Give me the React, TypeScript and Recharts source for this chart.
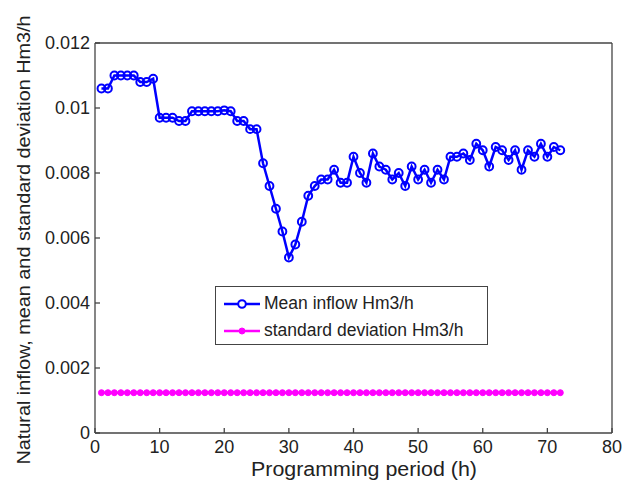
import React from "react";
import {
  LineChart,
  Line,
  XAxis,
  YAxis,
} from "recharts";

// Programming period (h)
const hours = [
  1, 2, 3, 4, 5, 6, 7, 8, 9, 10, 11, 12, 13, 14, 15, 16, 17, 18, 19, 20, 21, 22, 23, 24,
  25, 26, 27, 28, 29, 30, 31, 32, 33, 34, 35, 36, 37, 38, 39, 40, 41, 42, 43, 44, 45, 46, 47, 48,
  49, 50, 51, 52, 53, 54, 55, 56, 57, 58, 59, 60, 61, 62, 63, 64, 65, 66, 67, 68, 69, 70, 71, 72,
];

// Mean inflow Hm3/h
const meanInflow = [
  0.0106, 0.0106, 0.011, 0.011, 0.011, 0.011, 0.0108, 0.0108, 0.0109, 0.0097, 0.0097, 0.0097,
  0.0096, 0.0096, 0.0099, 0.0099, 0.0099, 0.0099, 0.0099, 0.00993, 0.0099, 0.0096, 0.0096, 0.00935,
  0.00935, 0.0083, 0.0076, 0.0069, 0.0062, 0.0054, 0.0058, 0.0065, 0.0073, 0.0076, 0.0078, 0.0078,
  0.0081, 0.0077, 0.0077, 0.0085, 0.008, 0.0077, 0.0086, 0.0082, 0.0081, 0.0078, 0.008, 0.0076,
  0.0082, 0.0078, 0.0081, 0.0077, 0.0081, 0.0078, 0.0085, 0.0085, 0.0086, 0.0084, 0.0089, 0.0087,
  0.0082, 0.0088, 0.0087, 0.0084, 0.0087, 0.0081, 0.0087, 0.0085, 0.0089, 0.0085, 0.0088, 0.0087,
];

// standard deviation Hm3/h
const stdDev = [
  0.00124, 0.00124, 0.00124, 0.00124, 0.00124, 0.00124, 0.00124, 0.00124, 0.00124, 0.00124, 0.00124, 0.00124,
  0.00124, 0.00124, 0.00124, 0.00124, 0.00124, 0.00124, 0.00124, 0.00124, 0.00124, 0.00124, 0.00124, 0.00124,
  0.00124, 0.00124, 0.00124, 0.00124, 0.00124, 0.00124, 0.00124, 0.00124, 0.00124, 0.00124, 0.00124, 0.00124,
  0.00124, 0.00124, 0.00124, 0.00124, 0.00124, 0.00124, 0.00124, 0.00124, 0.00124, 0.00124, 0.00124, 0.00124,
  0.00124, 0.00124, 0.00124, 0.00124, 0.00124, 0.00124, 0.00124, 0.00124, 0.00124, 0.00124, 0.00124, 0.00124,
  0.00124, 0.00124, 0.00124, 0.00124, 0.00124, 0.00124, 0.00124, 0.00124, 0.00124, 0.00124, 0.00124, 0.00124,
];

const xTicks = [0, 10, 20, 30, 40, 50, 60, 70, 80];
const yTicks = [0, 0.002, 0.004, 0.006, 0.008, 0.01, 0.012];

const data = hours.map((h, i) => ({
  hour: h,
  mean: meanInflow[i],
  std: stdDev[i],
}));

const FONT = "'Liberation Sans', Arial, Helvetica, sans-serif";
const AXIS = "#444";
const TEXT = "#222";
const yFormat = (v: number) => (v === 0 ? "0" : String(Number(v.toFixed(3))));

const XTick = (props: any) => (
  <text
    x={props.x}
    y={props.y + 19.5}
    textAnchor="middle"
    fontSize={18}
    fontFamily={FONT}
    fill={TEXT}
  >
    {props.payload.value}
  </text>
);

const YTick = (props: any) => (
  <text
    x={props.x - 5}
    y={props.y}
    dy="0.36em"
    textAnchor="end"
    fontSize={18}
    fontFamily={FONT}
    fill={TEXT}
  >
    {yFormat(props.payload.value)}
  </text>
);

// legend drawn as an overlay so it doesn't eat chart space
const LegendBox = () => (
  <div
    style={{
      position: "absolute",
      left: 215,
      top: 286,
      border: "1px solid #444",
      background: "#fff",
      width: 273,
      height: 59,
      fontFamily: FONT,
      fontSize: 17.5,
      color: TEXT,
      boxSizing: "border-box",
      padding: "3px 0 0 7px",
      whiteSpace: "nowrap",
    }}
  >
    <div style={{ display: "flex", alignItems: "center", height: 27 }}>
      <svg width={38} height={12}>
        <line x1={1} y1={6} x2={37} y2={6} stroke="#0000ff" strokeWidth={2.5} />
        <circle cx={19} cy={6} r={3.8} fill="#fff" stroke="#0000ff" strokeWidth={2} />
      </svg>
      <span style={{ marginLeft: 3 }}>Mean inflow Hm3/h</span>
    </div>
    <div style={{ display: "flex", alignItems: "center", height: 27 }}>
      <svg width={38} height={12}>
        <line x1={1} y1={6} x2={37} y2={6} stroke="#ff00ff" strokeWidth={2.5} />
        <circle cx={19} cy={6} r={3} fill="#ff00ff" stroke="#ff00ff" />
      </svg>
      <span style={{ marginLeft: 3 }}>standard deviation Hm3/h</span>
    </div>
  </div>
);

const App: React.FC = () => {
  return (
    <div style={{ position: "absolute", left: 0, top: 0, width: 633, height: 487, background: "#fff" }}>
      <LineChart
        width={633}
        height={487}
        data={data}
        margin={{ top: 42, right: 20, bottom: 0, left: 0 }}
      >
        <XAxis
          dataKey="hour"
          type="number"
          domain={[0, 80]}
          ticks={xTicks}
          interval={0}
          height={54}
          stroke={AXIS}
          strokeWidth={1.3}
          tickSize={-5}
          tickMargin={5}
          tick={<XTick />}
          tickLine={{ stroke: AXIS }}
          label={{
            content: () => (
              <text
                x={364}
                y={476}
                textAnchor="middle"
                fontSize={20}
                textLength={226}
                lengthAdjust="spacingAndGlyphs"
                fontFamily={FONT}
                fill={TEXT}
              >
                Programming period (h)
              </text>
            ),
          }}
        />
        <XAxis
          xAxisId="top"
          dataKey="hour"
          type="number"
          orientation="top"
          domain={[0, 80]}
          ticks={xTicks}
          interval={0}
          height={1}
          stroke={AXIS}
          strokeWidth={1.3}
          tickSize={-5}
          tick={false}
          tickLine={{ stroke: AXIS }}
        />
        <YAxis
          type="number"
          domain={[0, 0.012]}
          ticks={yTicks}
          interval={0}
          width={95}
          stroke={AXIS}
          strokeWidth={1.3}
          tickSize={-5}
          tickMargin={5}
          tick={<YTick />}
          tickLine={{ stroke: AXIS }}
          label={{
            content: () => {
              const cx = 23;
              const cy = 240;
              return (
                <text
                  x={cx}
                  y={cy}
                  transform={`rotate(-90 ${cx} ${cy})`}
                  textAnchor="middle"
                  dominantBaseline="central"
                  fontSize={19}
                  textLength={449}
                  lengthAdjust="spacingAndGlyphs"
                  fontFamily={FONT}
                  fill={TEXT}
                >
                  Natural inflow, mean and standard deviation Hm3/h
                </text>
              );
            },
          }}
        />
        <YAxis
          yAxisId="right"
          orientation="right"
          type="number"
          domain={[0, 0.012]}
          ticks={yTicks}
          interval={0}
          width={1}
          stroke={AXIS}
          strokeWidth={1.3}
          tickSize={-5}
          tick={false}
          tickLine={{ stroke: AXIS }}
        />
        <Line
          xAxisId="top"
          yAxisId="right"
          dataKey="std"
          stroke="#ff00ff"
          strokeWidth={2.5}
          dot={{ r: 3, fill: "#ff00ff", stroke: "#ff00ff", strokeWidth: 1 }}
          isAnimationActive={false}
        />
        <Line
          dataKey="mean"
          stroke="#0000ff"
          strokeWidth={2.5}
          dot={{ r: 3.9, fill: "#fff", fillOpacity: 0, stroke: "#0000ff", strokeWidth: 2 }}
          isAnimationActive={false}
        />
      </LineChart>
      <LegendBox />
    </div>
  );
};

export default App;
